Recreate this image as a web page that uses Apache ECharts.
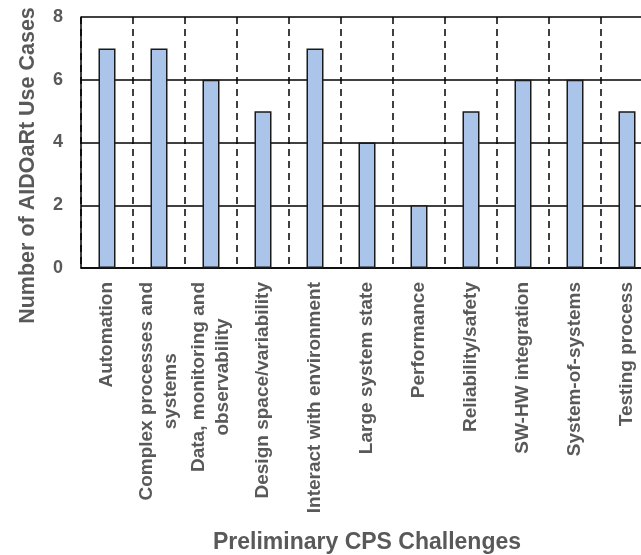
<!DOCTYPE html>
<html>
<head>
<meta charset="utf-8">
<script src="https://cdn.jsdelivr.net/npm/echarts@6/dist/echarts.min.js"></script>
<style>
  html, body { margin: 0; padding: 0; background: #fff; }
  #container { width: 641px; height: 555px; }
</style>
</head>
<body>
<div id="container"></div>
<script>
// challenges on the x axis
var categories = [
  'Automation',
  'Complex processes and\nsystems',
  'Data, monitoring and\nobservability',
  'Design space/variability',
  'Interact with environment',
  'Large system state',
  'Performance',
  'Reliability/safety',
  'SW-HW integration',
  'System-of-systems',
  'Testing process'
];
// number of use cases per challenge
var useCases = [7, 7, 6, 5, 7, 4, 2, 5, 6, 6, 5];
var yTicks = [0, 2, 4, 6, 8];

var textGrey = '#595959';
var fontName = 'Liberation Sans, Arial, sans-serif';

var dom = document.getElementById('container');
var myChart = echarts.init(dom, null, { renderer: 'canvas' });

var option = {
  animation: false,
  backgroundColor: '#fff',
  grid: {
    left: 81,
    width: 572,   // plot runs past the right edge, as in the original
    top: 17,
    bottom: 287,
    outerBoundsMode: 'none'
  },
  xAxis: {
    type: 'category',
    data: categories,
    name: 'Preliminary CPS Challenges',
    nameLocation: 'middle',
    nameGap: 263,
    nameTextStyle: {
      color: textGrey,
      fontSize: 23,
      fontWeight: 'bold',
      fontFamily: fontName
    },
    axisLine: { show: true, lineStyle: { color: '#000', width: 1.5 } },
    axisTick: { show: false },
    splitLine: {
      show: true,
      interval: 0,
      lineStyle: { color: '#000', width: 1.5, type: [7, 5] }
    },
    axisLabel: {
      interval: 0,
      rotate: 90,
      margin: 14,
      color: textGrey,
      fontSize: 19,
      fontWeight: 'bold',
      fontFamily: fontName,
      formatter: function (val) {
        return val.split('\n').map(function (s) { return '{a|' + s + '}'; }).join('\n');
      },
      rich: {
        a: {
          align: 'center',
          color: textGrey,
          fontSize: 19,
          fontWeight: 'bold',
          fontFamily: fontName,
          lineHeight: 24
        }
      }
    }
  },
  yAxis: {
    type: 'value',
    min: 0,
    max: 8,
    interval: 2,
    name: 'Number of AIDOaRt Use Cases',
    nameLocation: 'middle',
    nameGap: 42,
    nameTextStyle: {
      color: textGrey,
      fontSize: 21.5,
      fontWeight: 'bold',
      fontFamily: fontName,
      padding: [0, 46, 0, 0]
    },
    axisLine: { show: true, lineStyle: { color: '#000', width: 1.5 } },
    axisTick: { show: false },
    splitLine: { show: true, lineStyle: { color: '#000', width: 1.5 } },
    axisLabel: {
      margin: 18,
      color: textGrey,
      fontSize: 18,
      fontWeight: 'bold',
      fontFamily: fontName,
      customValues: yTicks
    }
  },
  series: [
    {
      type: 'bar',
      data: useCases,
      barWidth: 17,
      itemStyle: {
        color: '#abc4ea',
        borderColor: '#1a1a1a',
        borderWidth: 1.5
      }
    }
  ]
};
myChart.setOption(option);
</script>
</body>
</html>
